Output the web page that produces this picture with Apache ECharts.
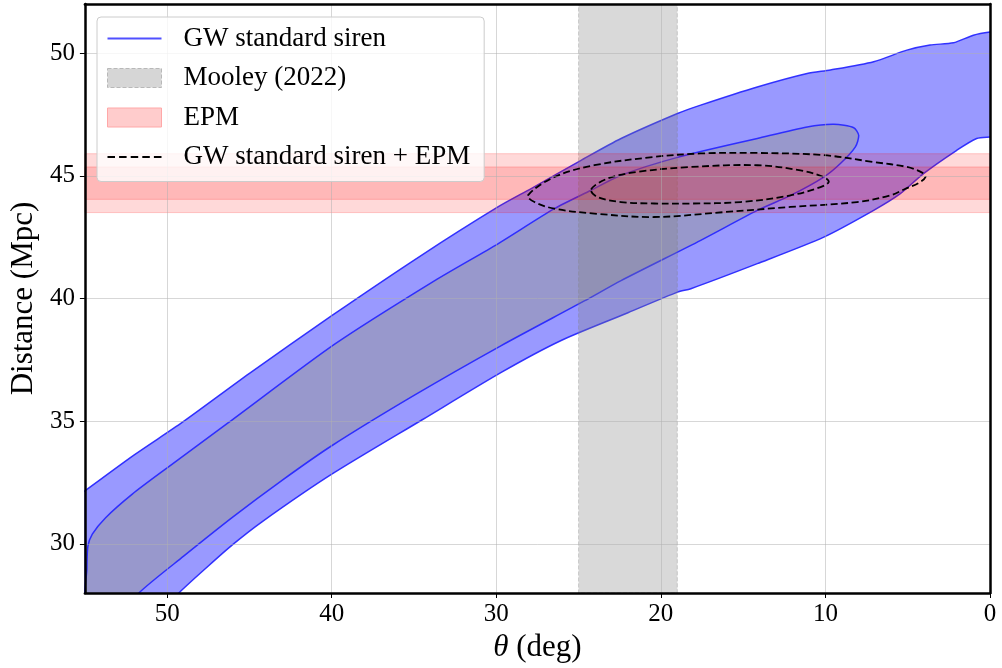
<!DOCTYPE html>
<html>
<head>
<meta charset="utf-8">
<script src="https://cdn.jsdelivr.net/npm/echarts@6/dist/echarts.min.js"></script>
<style>
  html, body { margin: 0; padding: 0; background: #ffffff; }
  #chart { width: 1002px; height: 668px; }
</style>
</head>
<body>
<div id="chart"></div>
<script>
// ---------- data (theta in deg, distance in Mpc) ----------
const gw90Upper = [
  [55.5, 31.9], [55, 32.16], [52, 33.63], [49.09, 34.95], [45, 36.95],
  [40, 39.3], [34.55, 41.76], [29.9, 43.73], [27.88, 44.48], [24.85, 45.63],
  [22.42, 46.52], [18.99, 47.54], [17.58, 47.88], [14.14, 48.62], [11.11, 49.17],
  [9.7, 49.31], [7.07, 49.65], [5.05, 50.12], [3.64, 50.33], [2.22, 50.42],
  [1.01, 50.73], [0, 50.86], [-0.6, 50.88]
];
const gw90Lower = [
  [-0.6, 46.6], [0, 46.58], [0.81, 46.52], [2.02, 46.04], [4.04, 45.09], [5.45, 44.27],
  [7.07, 43.59], [10.1, 42.5], [14.14, 41.42], [18.18, 40.4],
  [18.99, 40.26], [22, 39.42], [26.06, 38.29], [29.7, 36.99], [34.5, 35.06],
  [40, 32.84], [44.24, 30.9], [46.06, 29.95], [47.5, 29.1], [49.29, 28.0], [50.2, 27.3], [56, 27.3]
];
const gw68Upper = [
  [54.9, 27.3], [54.88, 29.0], [54.82, 29.9], [54.55, 30.4], [53.74, 31.07],
  [52.12, 32.03], [50, 33.1], [46.26, 34.95], [39.8, 38.15], [33.74, 40.73],
  [29.9, 42.23], [26.47, 43.66], [24.24, 44.41], [22.42, 45.02], [18.99, 45.75],
  [14.14, 46.52], [11.11, 46.99], [9.49, 47.1], [8.28, 46.96], [7.98, 46.65]
];
const gw68Lower = [
  [8.18, 46.18], [9.09, 45.5], [10.1, 44.95], [12.12, 44.2], [14.14, 43.59],
  [17.58, 42.37], [22.42, 40.73], [24.65, 39.9], [29.7, 38.08], [35, 36.05],
  [40, 34.0], [43, 32.6], [46, 31.1], [49, 29.5], [51.72, 28.0], [52.4, 27.3]
];
const combo90 = [
  [28.08, 44.2], [26.47, 44.95], [24.04, 45.43], [20.4, 45.77], [17.58, 45.91],
  [14.14, 45.93], [10.1, 45.84], [7.07, 45.56], [5.05, 45.36], [4.1, 45.12],
  [3.92, 44.95], [4.3, 44.72], [5.2, 44.45], [6.06, 44.2], [8.08, 43.93],
  [12.12, 43.73], [16.16, 43.52], [20.4, 43.32], [24.04, 43.46], [26.47, 43.66],
  [27.68, 43.93]
];
const combo68 = [
  [24.24, 44.44], [23.23, 44.89], [21.41, 45.16], [18.18, 45.36], [14.14, 45.43],
  [11.52, 45.22], [10.1, 44.95], [9.8, 44.75], [10.3, 44.54], [12.12, 44.2],
  [15.15, 43.93], [18.18, 43.87], [20.4, 43.87], [22.42, 43.93], [23.84, 44.13]
];
const mooleyRange = [25, 19];          // theta range
const epm1sigma = [44.04, 45.36];      // distance range
const epm2sigma = [43.5, 45.9];        // distance range
const xRange = [0, 55];
const yRange = [28, 52];
const legendNames = ['GW standard siren', 'Mooley (2022)', 'EPM', 'GW standard siren + EPM'];

// ---------- chart ----------
const FONT = '"Liberation Serif", "DejaVu Serif", serif';
const chart = echarts.init(document.getElementById('chart'), null, { renderer: 'canvas' });

function pts(api, arr) { return arr.map(p => api.coord(p)); }

const axisCommon = {
  type: 'value',
  z: 3,
  axisLine: { show: true, onZero: false, lineStyle: { color: '#000', width: 2.5 } },
  splitLine: { show: true, lineStyle: { color: 'rgba(176,176,176,0.5)', width: 1 } },
  axisTick: { show: true, inside: false, length: 5, lineStyle: { color: '#000', width: 1 } },
  axisLabel: { color: '#000', fontFamily: FONT, fontSize: 25 }
};

const option = {
  animation: false,
  backgroundColor: '#ffffff',
  grid: { left: 82, right: 12, top: 4, bottom: 75, containLabel: false },
  xAxis: [
    Object.assign({}, axisCommon, {
      min: xRange[0], max: xRange[1], interval: 10, inverse: true, position: 'bottom',
      axisLabel: Object.assign({}, axisCommon.axisLabel, { margin: 9, showMaxLabel: false, showMinLabel: true }),
      name: '{it|θ} (deg)', nameLocation: 'middle', nameGap: 33,
      nameTextStyle: { color: '#000', fontFamily: FONT, fontSize: 31,
        rich: { it: { fontStyle: 'italic', fontFamily: FONT, fontSize: 31, color: '#000' } } }
    }),
    {
      type: 'value', min: xRange[0], max: xRange[1], interval: 10, inverse: true, position: 'top', z: 3,
      axisLine: { show: true, onZero: false, lineStyle: { color: '#000', width: 2.5 } },
      axisTick: { show: false }, axisLabel: { show: false }, splitLine: { show: false }
    }
  ],
  yAxis: [
    Object.assign({}, axisCommon, {
      min: yRange[0], max: yRange[1], splitNumber: 5, position: 'left',
      axisLabel: Object.assign({}, axisCommon.axisLabel, { margin: 10, showMinLabel: false, showMaxLabel: false }),
      name: 'Distance (Mpc)', nameLocation: 'middle', nameGap: 44,
      nameTextStyle: { color: '#000', fontFamily: FONT, fontSize: 31 }
    }),
    {
      type: 'value', min: yRange[0], max: yRange[1], splitNumber: 5, position: 'right', z: 3,
      axisLine: { show: true, onZero: false, lineStyle: { color: '#000', width: 2.5 } },
      axisTick: { show: false }, axisLabel: { show: false }, splitLine: { show: false }
    }
  ],
  legend: {
    left: 97, top: 17, orient: 'vertical', selectedMode: false,
    padding: [8, 14, 11, 10],
    backgroundColor: 'rgba(255,255,255,0.8)', borderColor: '#cccccc', borderWidth: 1, borderRadius: 4,
    itemWidth: 54, itemHeight: 19, itemGap: 12.5,
    textStyle: { color: '#000', fontFamily: FONT, fontSize: 27, lineHeight: 26, padding: [0, 0, 0, 17] },
    data: [
      { name: legendNames[0], icon: 'path://M0,0 H54 V1.8 H0 Z', itemStyle: { color: '#5050ff', borderWidth: 0 } },
      { name: legendNames[1], icon: 'rect', itemStyle: { color: '#d6d6d6', borderColor: '#b8b8b8', borderWidth: 1, borderType: 'dashed' } },
      { name: legendNames[2], icon: 'rect', itemStyle: { color: '#ffcccc', borderColor: '#ffa8a8', borderWidth: 1 } },
      { name: legendNames[3], icon: 'path://M0,0 h7.5 v1.8 h-7.5 z M11.6,0 h7.5 v1.8 h-7.5 z M23.2,0 h7.5 v1.8 h-7.5 z M34.8,0 h7.5 v1.8 h-7.5 z M46.4,0 h7.6 v1.8 h-7.6 z', itemStyle: { color: '#000', borderWidth: 0 } }
    ]
  },
  series: [
    {
      name: legendNames[0], type: 'custom', clip: true, silent: true, z: 2,
      data: [[27, 40]],
      renderItem: function (params, api) {
        const outer = pts(api, gw90Upper.concat(gw90Lower));
        const inner = pts(api, gw68Upper.concat(gw68Lower));
        return {
          type: 'group',
          children: [
            { type: 'polygon', shape: { points: outer, smooth: 0.25 },
              style: { fill: 'rgba(0,0,255,0.4)', stroke: 'rgba(40,40,255,0.95)', lineWidth: 1.5 } },
            { type: 'polygon', shape: { points: inner, smooth: 0.25 },
              style: { fill: 'rgba(151,151,151,0.49)', stroke: 'rgba(40,40,255,0.95)', lineWidth: 1.5 } }
          ]
        };
      }
    },
    {
      name: legendNames[1], type: 'custom', clip: true, silent: true, z: 2,
      data: [[22, 40]],
      renderItem: function (params, api) {
        const a = api.coord([mooleyRange[0], yRange[1]]);
        const b = api.coord([mooleyRange[1], yRange[0]]);
        return {
          type: 'rect',
          shape: { x: Math.min(a[0], b[0]), y: Math.min(a[1], b[1]), width: Math.abs(b[0] - a[0]), height: Math.abs(b[1] - a[1]) },
          style: { fill: 'rgba(128,128,128,0.3)', stroke: 'rgba(128,128,128,0.35)', lineWidth: 1, lineDash: [4, 2] }
        };
      }
    },
    {
      name: legendNames[2], type: 'custom', clip: true, silent: true, z: 2,
      data: [[27, 44.7]],
      renderItem: function (params, api) {
        const bands = [epm2sigma, epm1sigma].map(function (r) {
          const a = api.coord([xRange[1], r[1]]);
          const b = api.coord([xRange[0], r[0]]);
          return {
            type: 'rect',
            shape: { x: Math.min(a[0], b[0]), y: Math.min(a[1], b[1]), width: Math.abs(b[0] - a[0]), height: Math.abs(b[1] - a[1]) },
            style: { fill: 'rgba(255,0,0,0.15)', stroke: 'rgba(255,0,0,0.2)', lineWidth: 1 }
          };
        });
        return { type: 'group', children: bands };
      }
    },
    {
      name: legendNames[3], type: 'custom', clip: true, silent: true, z: 2,
      data: [[16, 44.6]],
      renderItem: function (params, api) {
        return {
          type: 'group',
          children: [combo90, combo68].map(function (c) {
            return { type: 'polygon', shape: { points: pts(api, c), smooth: 0.35 },
              style: { fill: null, stroke: '#000', lineWidth: 1.8, lineDash: [7, 3.5] } };
          })
        };
      }
    }
  ]
};
chart.setOption(option);
</script>
</body>
</html>
